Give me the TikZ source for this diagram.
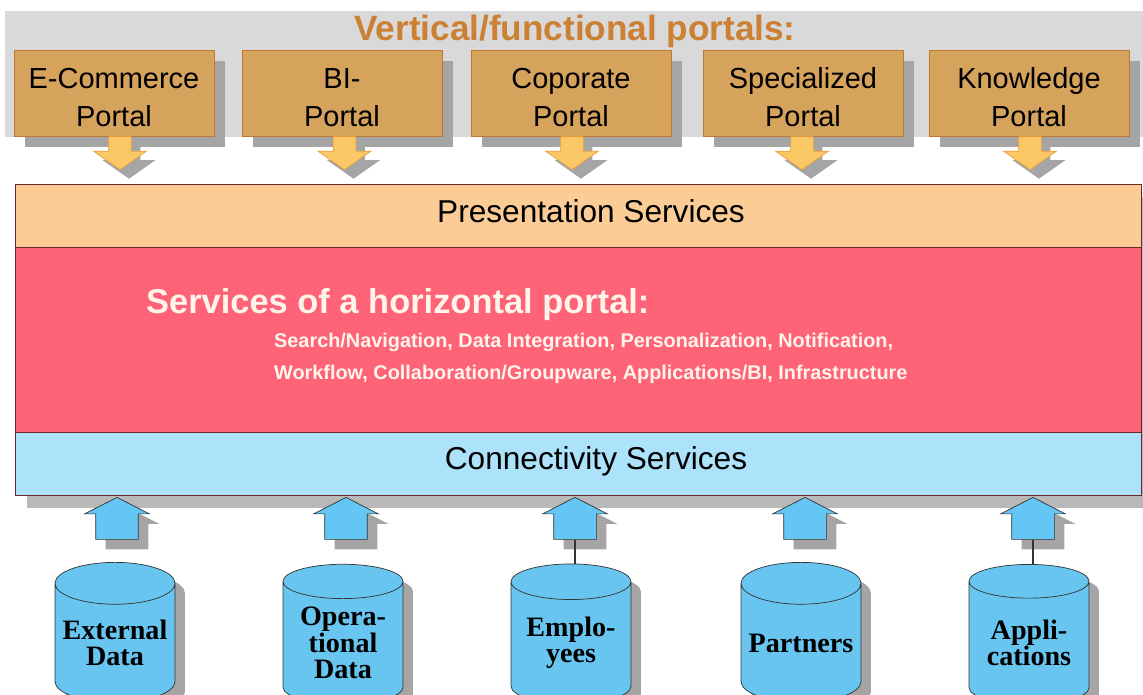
\documentclass[tikz,border=0pt]{standalone}
\usepackage{fontspec}
\setmainfont{Liberation Sans}
\newfontfamily\cylfont{Liberation Serif}
\usetikzlibrary{shapes.geometric,shapes.arrows,shadows}

\definecolor{bandgray}{RGB}{217,217,217}
\definecolor{shadegray}{RGB}{165,165,165}
\definecolor{stackgray}{RGB}{185,185,185}
\definecolor{titleorange}{RGB}{204,128,51}
\definecolor{portalfill}{RGB}{214,163,92}
\definecolor{portalline}{RGB}{190,120,50}
\definecolor{downfill}{RGB}{250,200,100}
\definecolor{downline}{RGB}{235,160,60}
\definecolor{presfill}{RGB}{252,204,150}
\definecolor{hortfill}{RGB}{255,99,120}
\definecolor{connfill}{RGB}{172,226,250}
\definecolor{bandline}{RGB}{110,40,40}
\definecolor{upfill}{RGB}{100,198,244}
\definecolor{cylbody}{RGB}{104,197,240}
\definecolor{softwhite}{RGB}{255,245,235}

\begin{document}
\begin{tikzpicture}[x=0.02cm, y=-0.02cm,
    shadowed/.style={drop shadow={shadow xshift=#1, shadow yshift=-#1, fill=shadegray, opacity=1}},
    shadowed/.default=0.2cm,
    portal/.style={draw=portalline, fill=portalfill, minimum width=4cm, minimum height=1.72cm,
        inner sep=0, align=center, text height=38pt, font=\fontsize{16.5}{21.6}\selectfont,
        shadowed=0.22cm},
    downarrow/.style={single arrow, rotate=-90, draw=downline, fill=downfill, inner xsep=0,
        inner ysep=0.22cm, minimum height=0.66cm, single arrow head extend=0.3cm,
        single arrow tip angle=110, shadowed=0.18cm},
    uparrow/.style={single arrow, rotate=90, draw=black!80, fill=upfill, inner xsep=0,
        inner ysep=0.42cm, minimum height=0.84cm, single arrow head extend=0.22cm,
        single arrow tip angle=126, shadowed=0.2cm},
    band/.style={draw=bandline, minimum width=22.52cm, inner sep=0},
    bandtext/.style={font=\fontsize{18}{22}\selectfont},
    cyl/.style={cylinder, shape border rotate=90, aspect=0.4, draw=black!80, fill=cylbody,
        minimum width=2.4cm, minimum height=2.8cm, inner sep=0, align=center,
        font=\cylfont\bfseries\fontsize{16}{15}\selectfont, shadowed=0.2cm}]

    \useasboundingbox (0,0) rectangle (1143,694);
    \fill[bandgray] (5,11) rectangle (1143,137);
    \node[font=\bfseries\fontsize{20}{24}\selectfont, text=titleorange] (title) at (575,31)
        {Vertical/functional portals:};

    \node[portal] (ecom) at (114,93) {E-Commerce\\Portal};
    \node[portal] (bi) at (342,93) {BI-\\Portal};
    \node[portal] (corp) at (571,93) {Coporate\\Portal};
    \node[portal] (spec) at (803,93) {Specialized\\Portal};
    \node[portal] (know) at (1029,93) {Knowledge\\Portal};

    \node[downarrow, anchor=tail] (decom) at ([xshift=0.12cm]ecom.south) {};
    \node[downarrow, anchor=tail] (dbi) at ([xshift=0.05cm]bi.south) {};
    \node[downarrow, anchor=tail] (dcorp) at ([xshift=0.02cm]corp.south) {};
    \node[downarrow, anchor=tail] (dspec) at ([xshift=-0.02cm]spec.south) {};
    \node[downarrow, anchor=tail] (dknow) at ([xshift=0.02cm]know.south) {};

    \fill[stackgray] (27,197) rectangle (1160,508);
    \node[band, fill=presfill, minimum height=1.26cm] (pres) at (578,215.5) {};
    \node[band, fill=hortfill, minimum height=3.7cm] (hort) at (578,339.5) {};
    \node[band, fill=connfill, minimum height=1.26cm] (conn) at (578,463.5) {};
    \node[bandtext] (prestext) at (591,211) {Presentation Services};
    \node[bandtext] (conntext) at (596,461) {Connectivity Services};
    \node[anchor=west, text=softwhite, font=\bfseries\fontsize{19.6}{24}\selectfont] (horttitle)
        at (140,305) {Services of a horizontal portal:};
    \node[anchor=west, align=left, text=softwhite, font=\bfseries\fontsize{11.3}{18.2}\selectfont]
        (hortlist) at (268,358) {Search/Navigation, Data Integration, Personalization, Notification,\\
        Workflow, Collaboration/Groupware, Applications/BI, Infrastructure};

    \node[uparrow, anchor=tip] (uext) at (117,497) {};
    \node[uparrow, anchor=tip] (uop) at (346,497) {};
    \node[uparrow, anchor=tip] (uemp) at (575,497) {};
    \node[uparrow, anchor=tip] (upart) at (805,497) {};
    \node[uparrow, anchor=tip] (uapp) at (1033,497) {};

    \node[cyl] (cext) at (115,643) {External\\Data};
    \node[cyl] (cop) at (343,643) {Opera-\\tional\\Data};
    \node[cyl] (cemp) at (571,643) {Emplo-\\yees};
    \node[cyl] (cpart) at (801,643) {Partners};
    \node[cyl] (capp) at (1029,643) {Appli-\\cations};

    \draw[black!80, thick] (uemp.tail) -- (uemp.tail |- cemp.top);
    \draw[black!80, thick] (uapp.tail) -- (uapp.tail |- capp.top);
\end{tikzpicture}
\end{document}
